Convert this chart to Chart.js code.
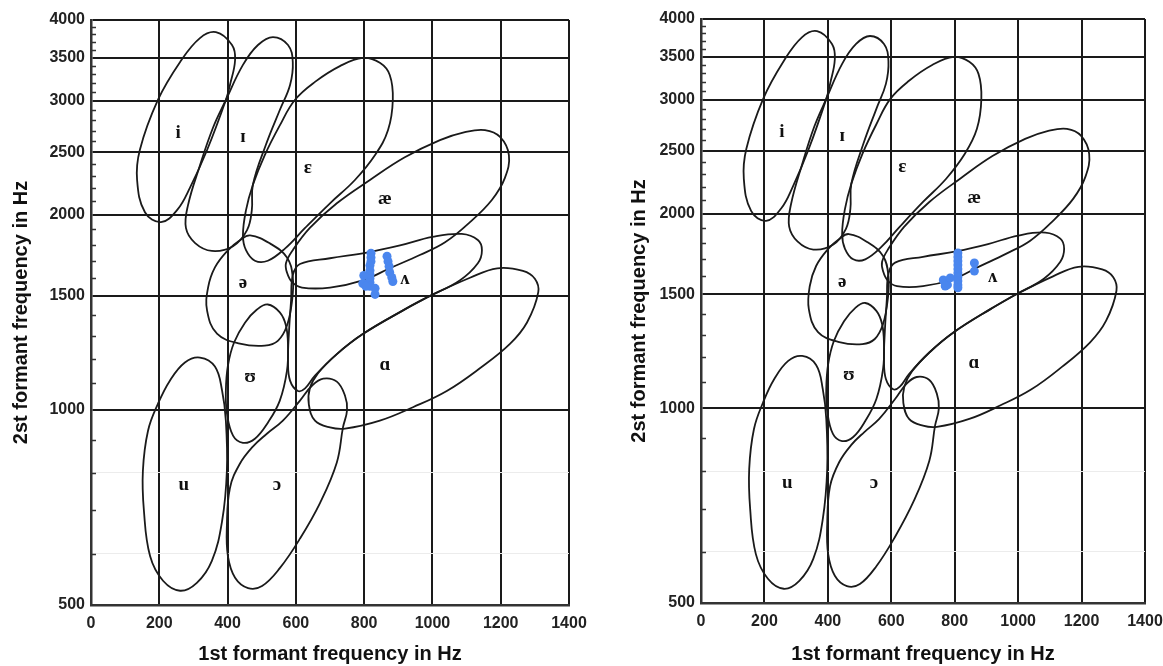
<!DOCTYPE html>
<html>
<head>
<meta charset="utf-8">
<script src="https://cdn.jsdelivr.net/npm/chart.js@4.4.1/dist/chart.umd.min.js"></script>
<style>
  html, body { margin: 0; padding: 0; background: #fff; overflow: hidden; }
  .panel { position: absolute; top: 0; height: 666px; }
  #left { left: 0; width: 597px; }
  #right { left: 618px; width: 555px; }
</style>
</head>
<body>
<div class="panel" id="left"><canvas id="chartLeft"></canvas></div>
<div class="panel" id="right"><canvas id="chartRight"></canvas></div>
<script>
// axis ticks
const f1Ticks = [0, 200, 400, 600, 800, 1000, 1200, 1400];
const f2Labels = [500, 1000, 1500, 2000, 2500, 3000, 3500, 4000];
const f2MinorTicks = [600, 700, 800, 900, 1100, 1200, 1300, 1400, 1600, 1700, 1800, 1900,
  2100, 2200, 2300, 2400, 2600, 2700, 2800, 2900, 3100, 3200, 3300, 3400,
  3600, 3700, 3800, 3900];
const f2FaintLines = [600, 800];

// vowel labels (F1, F2)
const vowelNames = ['i', 'ɪ', 'ɛ', 'æ', 'ə', 'ʌ', 'ʊ', 'ɑ', 'u', 'ɔ'];
const vowelF1 = [255, 445, 635, 861, 445, 920, 466, 861, 272, 545];
const vowelF2 = [2675, 2640, 2360, 2115, 1570, 1595, 1125, 1175, 767, 767];

// vowel region outlines, [F1, F2]
const loopI = [[366,3830],[413,3660],[422,3470],[407,3175],[395,3010],[340,2520],[290,2205],[252,2035],[205,1950],[158,2020],[135,2265],[143,2520],[196,3010],[261,3445],[319,3750]];
const loopIh = [[533,3765],[577,3660],[591,3445],[583,3175],[553,2905],[512,2565],[474,2225],[471,2035],[457,1895],[416,1790],[354,1760],[305,1810],[278,1910],[284,2070],[319,2385],[357,2725],[395,3010],[445,3410],[489,3660]];
const loopEh = [[796,3495],[846,3435],[875,3290],[884,3010],[870,2705],[832,2475],[773,2265],[700,2085],[627,1910],[568,1775],[518,1700],[480,1700],[454,1765],[445,1860],[454,2035],[474,2225],[509,2475],[553,2750],[597,3010],[656,3210],[729,3395]];
const loopAe = [[574,1630],[589,1575],[618,1545],[700,1545],[796,1585],[875,1655],[963,1735],[1037,1815],[1110,1950],[1174,2110],[1212,2280],[1224,2475],[1198,2640],[1154,2705],[1095,2685],[1022,2610],[919,2455],[817,2265],[720,2085],[641,1910],[591,1765],[571,1685]];
const loopSchwa = [[466,1860],[524,1808],[574,1720],[591,1602],[589,1476],[574,1350],[548,1280],[509,1257],[436,1266],[369,1312],[340,1424],[343,1546],[363,1660],[401,1764],[436,1828]];
const loopWedge = [[1145,1765],[1133,1830],[1086,1870],[1000,1850],[905,1795],[808,1750],[700,1715],[612,1680],[591,1615],[586,1475],[580,1325],[577,1190],[583,1110],[606,1070],[627,1080],[656,1130],[720,1220],[796,1310],[914,1425],[993,1500],[1080,1585],[1133,1685]];
const loopHood = [[518,1455],[553,1415],[571,1350],[577,1257],[574,1150],[553,1034],[518,956],[480,903],[445,890],[416,913],[398,990],[395,1071],[401,1171],[419,1271],[451,1364],[486,1429]];
const loopFather = [[1310,1520],[1300,1595],[1265,1640],[1190,1655],[1110,1600],[993,1500],[914,1425],[796,1310],[720,1220],[665,1140],[641,1080],[638,1020],[656,963],[700,940],[744,936],[846,963],[943,1010],[1042,1070],[1139,1160],[1227,1265],[1277,1365]];
const loopU = [[319,1205],[363,1167],[384,1071],[395,963],[398,806],[384,674],[354,585],[310,541],[261,526],[211,545],[173,595],[155,699],[152,806],[167,929],[196,1022],[231,1110],[275,1184]];
const loopOpenO = [[680,1118],[720,1106],[744,1052],[750,1000],[738,940],[720,830],[671,719],[612,633],[553,570],[501,535],[460,531],[422,551],[401,595],[398,663],[407,758],[436,826],[474,878],[515,919],[562,963],[612,1034],[647,1090]];
const vowelLoops = [loopI, loopIh, loopEh, loopAe, loopSchwa, loopWedge, loopHood, loopFather, loopU, loopOpenO];

// measured tokens (blue)
const tokensLeftF1 = [820, 820, 820, 817, 817, 817, 817, 817, 817, 799, 796, 805, 832, 832, 867, 870, 873, 875, 881, 884];
const tokensLeftF2 = [1746, 1720, 1696, 1672, 1642, 1619, 1596, 1574, 1552, 1613, 1568, 1552, 1541, 1508, 1727, 1696, 1666, 1630, 1602, 1579];
const tokensRightF1 = [810, 810, 810, 810, 810, 810, 810, 810, 810, 810, 764, 777, 786, 770, 862, 862];
const tokensRightF2 = [1739, 1714, 1690, 1666, 1642, 1619, 1596, 1574, 1552, 1536, 1579, 1552, 1591, 1546, 1678, 1630];

const INK = '#1a1a1a';
const sansBold = (size) => ({ family: '"Liberation Sans", Arial, sans-serif', size: size, weight: 'bold' });

// closed loop: pad with neighbours so the join is smooth, hide the padding segments
function loopDataset(loop) {
  const pts = [loop[loop.length - 1], ...loop, loop[0], loop[1]].map(p => ({ x: p[0], y: p[1] }));
  const lastHidden = pts.length - 2;
  return {
    data: pts,
    showLine: true,
    borderColor: INK,
    borderWidth: 1.8,
    pointRadius: 0,
    tension: 0.4,
    order: 2,
    segment: {
      borderColor: ctx => (ctx.p0DataIndex === 0 || ctx.p0DataIndex === lastHidden) ? 'rgba(0,0,0,0)' : undefined
    }
  };
}

// small inward tick marks on the F2 axis
const minorTickPlugin = {
  id: 'minorTicks',
  beforeDatasetsDraw(chart) {
    const { ctx, chartArea, scales: { y } } = chart;
    ctx.save();
    ctx.strokeStyle = '#333';
    ctx.lineWidth = 1.5;
    ctx.beginPath();
    f2MinorTicks.forEach(v => {
      const py = Math.round(y.getPixelForValue(v)) + 0.5;
      ctx.moveTo(chartArea.left, py);
      ctx.lineTo(chartArea.left + 5, py);
    });
    ctx.stroke();
    ctx.restore();
  }
};

const vowelLabelPlugin = {
  id: 'vowelLabels',
  afterDatasetsDraw(chart) {
    const { ctx, scales: { x, y } } = chart;
    ctx.save();
    ctx.font = 'bold 19px "Liberation Serif", "DejaVu Serif", serif';
    ctx.fillStyle = '#111';
    ctx.textAlign = 'center';
    ctx.textBaseline = 'middle';
    vowelNames.forEach((name, i) => {
      ctx.fillText(name, x.getPixelForValue(vowelF1[i]), y.getPixelForValue(vowelF2[i]));
    });
    ctx.restore();
  }
};

function makeChart(id, tokF1, tokF2, yWidth, xHeight, pad) {
  const datasets = [{
    data: tokF1.map((v, i) => ({ x: v, y: tokF2[i] })),
    pointRadius: 4.5,
    pointBackgroundColor: '#4a86ee',
    pointBorderWidth: 0,
    order: 0
  }];
  vowelLoops.forEach(l => datasets.push(loopDataset(l)));

  return new Chart(document.getElementById(id), {
    type: 'scatter',
    data: { datasets },
    plugins: [minorTickPlugin, vowelLabelPlugin],
    options: {
      responsive: true,
      maintainAspectRatio: false,
      animation: false,
      layout: { padding: pad },
      plugins: { legend: { display: false }, tooltip: { enabled: false } },
      scales: {
        x: {
          type: 'linear',
          min: 0,
          max: 1400,
          afterBuildTicks: s => { s.ticks = f1Ticks.map(v => ({ value: v })); },
          afterFit: s => { s.height = xHeight; },
          border: { display: true, color: '#333', width: 2.5 },
          grid: { color: INK, lineWidth: 2, drawTicks: false },
          ticks: { font: sansBold(16), color: '#222', padding: 9, maxRotation: 0, callback: v => String(v) },
          title: {
            display: true, text: '1st formant frequency in Hz',
            font: sansBold(20), color: '#111', padding: { top: 0, bottom: 0 }
          }
        },
        y: {
          type: 'logarithmic',
          min: 500,
          max: 4000,
          afterBuildTicks: s => { s.ticks = f2Labels.concat(f2FaintLines).map(v => ({ value: v })).sort((a, b) => a.value - b.value); },
          afterFit: s => { s.width = yWidth; },
          border: { display: true, color: '#333', width: 2.5 },
          grid: {
            color: c => f2Labels.includes(c.tick.value) ? INK : '#ececec',
            lineWidth: c => f2Labels.includes(c.tick.value) ? 2 : 1,
            drawTicks: false
          },
          ticks: {
            autoSkip: false,
            font: sansBold(16),
            color: '#222',
            padding: 6,
            callback: v => f2Labels.includes(v) ? String(v) : ''
          },
          title: {
            display: true, text: '2st formant frequency in Hz',
            font: sansBold(20), color: '#111', padding: { top: 9, bottom: 0 }
          }
        }
      }
    }
  });
}

makeChart('chartLeft', tokensLeftF1, tokensLeftF2, 91, 61, { top: 20, right: 28, left: 0, bottom: 0 });
makeChart('chartRight', tokensRightF1, tokensRightF2, 83, 63, { top: 19, right: 28, left: 0, bottom: 0 });
</script>
</body>
</html>
